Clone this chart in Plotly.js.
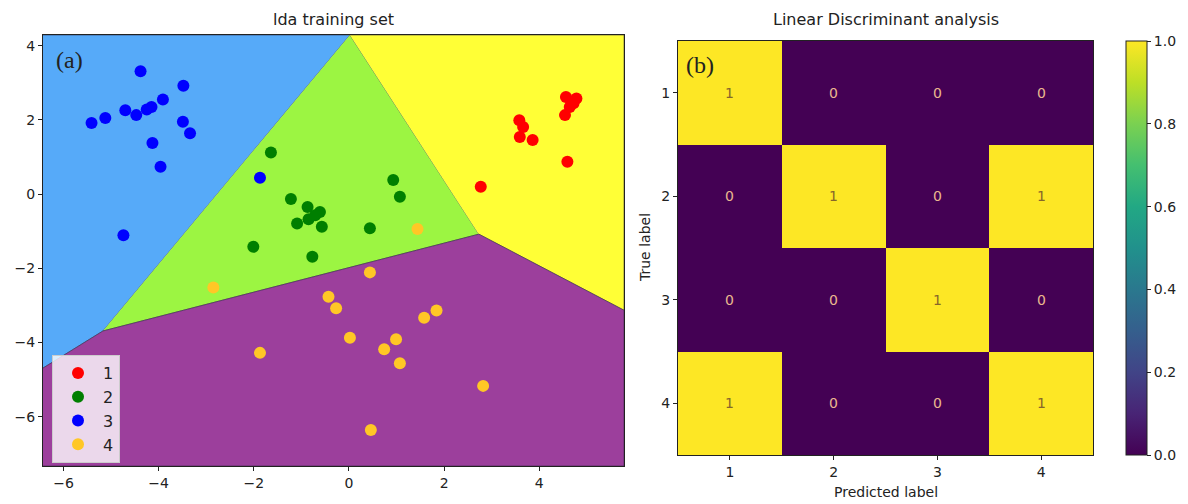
<!DOCTYPE html>
<html><head><meta charset="utf-8">
<script src="https://cdn.plot.ly/plotly-3.0.1.min.js"></script>
<style>html,body{margin:0;padding:0;background:#fff}</style>
</head><body><div id="chart" style="width:1188px;height:504px"></div>
<script>
// ---------- data: lda training set ----------
const classNames = ['1', '2', '3', '4'];
const classColors = ['#ff0000', '#007f00', '#0000ff', '#ffc726'];

const class1X = [4.56, 4.78, 4.68, 4.64, 4.54, 4.72, 3.58, 3.66, 3.59, 3.86, 4.59, 2.77];
const class1Y = [2.62, 2.58, 2.49, 2.35, 2.13, 2.45, 1.99, 1.81, 1.54, 1.46, 0.87, 0.20];

const class2X = [-1.64, -1.22, -0.87, -0.61, -0.71, -0.85, -1.09, -0.57, 0.44, 0.93, 1.07, -2.01, -0.77];
const class2Y = [1.12, -0.13, -0.35, -0.48, -0.57, -0.68, -0.79, -0.88, -0.92, 0.38, -0.07, -1.42, -1.69];

const class3X = [-5.41, -5.12, -4.70, -4.47, -4.38, -4.25, -4.15, -3.91, -3.48, -3.49, -3.34, -4.13, -3.96, -4.74, -1.87];
const class3Y = [1.92, 2.05, 2.26, 2.13, 3.31, 2.28, 2.35, 2.55, 2.92, 1.95, 1.64, 1.38, 0.74, -1.11, 0.44];

const class4X = [1.44, -2.85, 0.44, -0.43, -0.27, 0.02, 0.74, 0.99, -1.87, 0.46, 1.58, 1.84, 1.07, 2.82];
const class4Y = [-0.94, -2.52, -2.11, -2.77, -3.08, -3.87, -4.18, -3.91, -4.28, -6.36, -3.33, -3.14, -4.56, -5.17];

// decision regions (vertices of each class area)
const regionBlueX = [-6.43, 0.02, -5.17, -6.43];
const regionBlueY = [4.29, 4.29, -3.69, -4.69];
const regionGreenX = [0.02, 2.73, -5.17];
const regionGreenY = [4.29, -1.08, -3.69];
const regionYellowX = [0.02, 5.78, 5.78, 2.73];
const regionYellowY = [4.29, 4.29, -3.13, -1.08];
const regionPurpleX = [-6.43, -5.17, 2.73, 5.78, 5.78, -6.43];
const regionPurpleY = [-4.69, -3.69, -1.08, -3.13, -7.33, -7.33];
const regionColors = ['#56aaf9', '#9cf542', '#ffff36', '#9c3f9c'];

const ldaXRange = [-6.43, 5.78];
const ldaYRange = [-7.33, 4.29];
const ldaTicks = [-6, -4, -2, 0, 2, 4];

// ---------- data: confusion matrix ----------
const cmLabels = [1, 2, 3, 4];
const cmValues = [
  [1, 0, 0, 0],
  [0, 1, 0, 1],
  [0, 0, 1, 0],
  [1, 0, 0, 1]
];
const cbTicks = [0, 0.2, 0.4, 0.6, 0.8, 1.0];

// ---------- traces ----------
const traces = [];
const regions = [
  [regionBlueX, regionBlueY], [regionGreenX, regionGreenY],
  [regionYellowX, regionYellowY], [regionPurpleX, regionPurpleY]
];
regions.forEach((r, i) => {
  traces.push({
    type: 'scatter', mode: 'lines', x: r[0], y: r[1], fill: 'toself',
    fillcolor: regionColors[i], line: {color: 'rgba(50,40,70,0.55)', width: 1},
    showlegend: false, hoverinfo: 'skip', xaxis: 'x', yaxis: 'y'
  });
});
const classX = [class1X, class2X, class3X, class4X];
const classY = [class1Y, class2Y, class3Y, class4Y];
classNames.forEach((n, i) => {
  traces.push({
    type: 'scatter', mode: 'markers', name: n, x: classX[i], y: classY[i],
    marker: {color: classColors[i], size: 12}, xaxis: 'x', yaxis: 'y'
  });
});

const viridis = [[0, '#440154'], [0.1, '#482475'], [0.2, '#414487'], [0.3, '#355f8d'], [0.4, '#2a788e'],
  [0.5, '#21918c'], [0.6, '#22a884'], [0.7, '#44bf70'], [0.8, '#7ad151'], [0.9, '#bddf26'], [1, '#fde725']];

traces.push({
  type: 'heatmap', x: cmLabels, y: cmLabels, z: cmValues, zmin: 0, zmax: 1,
  colorscale: viridis, xaxis: 'x2', yaxis: 'y2', showlegend: false,
  colorbar: {
    x: 1126 / 1188, xanchor: 'left', xpad: 0, y: 1 - 248 / 504, yanchor: 'middle', ypad: 0,
    len: 414, lenmode: 'pixels', thickness: 21, outlinewidth: 1, outlinecolor: '#222',
    tickvals: cbTicks, tickformat: '.1f', ticks: 'outside', ticklen: 4, tickcolor: '#222',
    tickfont: {size: 14, color: '#222'}
  }
});

// ---------- annotations ----------
const annotations = [];
cmValues.forEach((row, i) => {
  row.forEach((v, j) => {
    annotations.push({
      xref: 'x2', yref: 'y2', x: cmLabels[j], y: cmLabels[i], text: String(v), showarrow: false,
      font: {size: 14, color: v === 1 ? '#86662a' : '#eab98e'}
    });
  });
});
annotations.push(
  {xref: 'paper', yref: 'paper', x: 333.5 / 1188, y: 1 - 20 / 504, text: 'lda training set', showarrow: false,
   font: {size: 16, color: '#222'}, xanchor: 'center', yanchor: 'middle'},
  {xref: 'paper', yref: 'paper', x: 885.5 / 1188, y: 1 - 20 / 504, text: 'Linear Discriminant analysis', showarrow: false,
   font: {size: 16, color: '#222'}, xanchor: 'center', yanchor: 'middle'},
  {xref: 'paper', yref: 'paper', x: 885.5 / 1188, y: 1 - 492 / 504, text: 'Predicted label', showarrow: false,
   font: {size: 14, color: '#222'}, xanchor: 'center', yanchor: 'middle'},
  {xref: 'paper', yref: 'paper', x: 645 / 1188, y: 1 - 248 / 504, text: 'True label', showarrow: false, textangle: -90,
   font: {size: 14, color: '#222'}, xanchor: 'center', yanchor: 'middle'},
  {xref: 'paper', yref: 'paper', x: 54 / 1188, y: 1 - 60 / 504, text: '(a)', showarrow: false,
   font: {size: 24, color: '#222', family: 'Liberation Serif'}, xanchor: 'left', yanchor: 'middle'},
  {xref: 'paper', yref: 'paper', x: 684 / 1188, y: 1 - 65 / 504, text: '(b)', showarrow: false,
   font: {size: 24, color: '#222', family: 'Liberation Serif'}, xanchor: 'left', yanchor: 'middle'}
);

const axCommon = {showline: true, mirror: true, linecolor: '#222', linewidth: 1, ticks: 'outside', ticklen: 4,
  tickcolor: '#222', showgrid: false, zeroline: false, tickfont: {size: 14, color: '#222'}, fixedrange: true};

const layout = {
  width: 1188, height: 504, margin: {l: 0, r: 0, t: 0, b: 0, autoexpand: false},
  paper_bgcolor: '#fff', plot_bgcolor: '#fff',
  font: {family: 'DejaVu Sans', color: '#222'},
  showlegend: true,
  legend: {x: 52 / 1188, xanchor: 'left', y: 1 - 355 / 504, yanchor: 'top',
    bgcolor: 'rgba(255,255,255,0.8)', bordercolor: '#cccccc', borderwidth: 1,
    itemwidth: 40, font: {size: 16, color: '#222'}},
  xaxis: Object.assign({}, axCommon, {domain: [43 / 1188, 624 / 1188], range: ldaXRange, tickvals: ldaTicks, anchor: 'y'}),
  yaxis: Object.assign({}, axCommon, {domain: [1 - 466 / 504, 1 - 35 / 504], range: ldaYRange, tickvals: ldaTicks, anchor: 'x'}),
  xaxis2: Object.assign({}, axCommon, {domain: [678 / 1188, 1093 / 1188], range: [0.5, 4.5], tickvals: cmLabels, anchor: 'y2'}),
  yaxis2: Object.assign({}, axCommon, {domain: [1 - 455 / 504, 1 - 41 / 504], range: [4.5, 0.5], tickvals: cmLabels, anchor: 'x2'}),
  annotations: annotations,
  hovermode: false
};

Plotly.newPlot('chart', traces, layout, {displayModeBar: false, staticPlot: true});
</script>
</body></html>
